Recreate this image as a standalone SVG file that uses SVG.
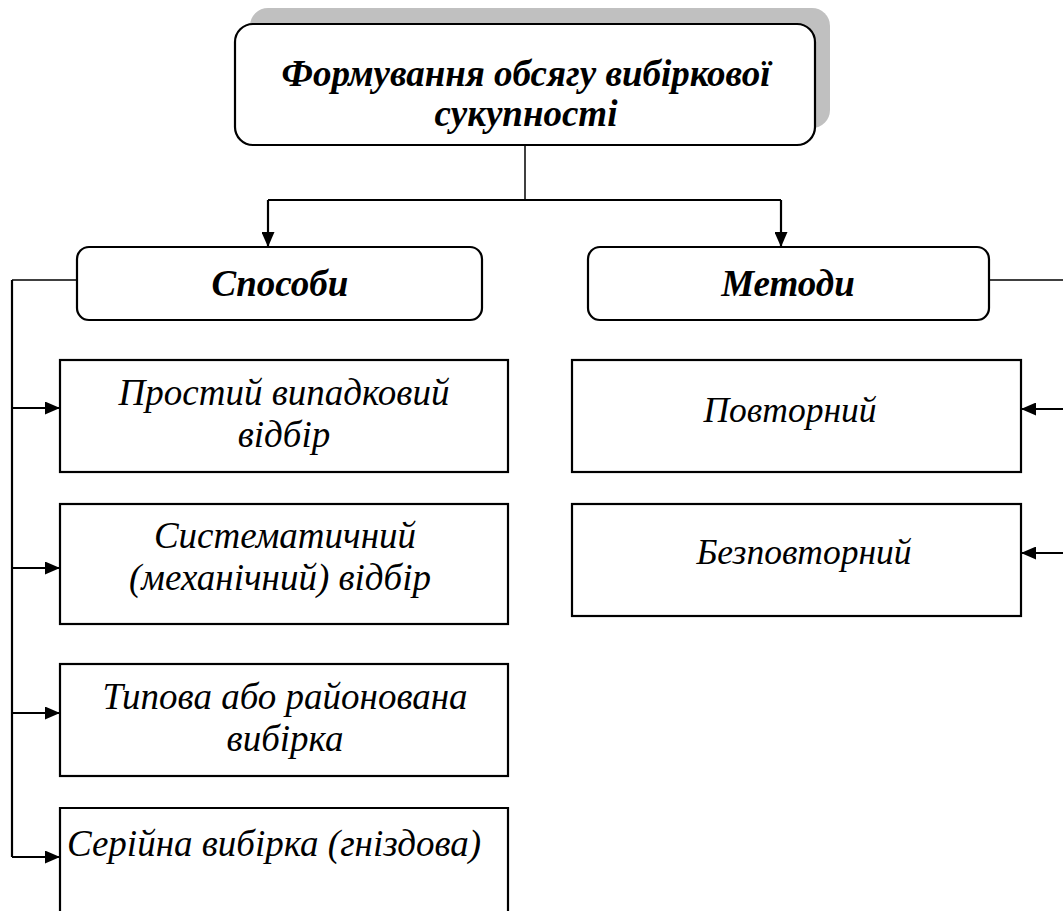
<svg xmlns="http://www.w3.org/2000/svg" width="1063" height="911" viewBox="0 0 1063 911">
<defs>
<marker id="ah" viewBox="0 0 15 13" refX="15" refY="6.5" markerWidth="15" markerHeight="13" markerUnits="userSpaceOnUse" orient="auto">
<path d="M0,0 L15,6.5 L0,13 Z" fill="#000"/>
</marker>
</defs>
<style>
.box{fill:#fff;stroke:#000;stroke-width:2.2}
.ln{fill:none;stroke:#000;stroke-width:2.2}
.thin{fill:none;stroke:#000;stroke-width:1.5}
.t{font-family:"Liberation Serif","Times New Roman",serif;font-style:italic;font-size:37px;fill:#000;text-anchor:middle}
.b{font-weight:bold}
.r{font-size:35.5px}
</style>
<rect width="1063" height="911" fill="#fff"/>
<g id="connectors">
<path class="thin" d="M525,145 V200"/>
<path class="ln" d="M268,200 H781"/>
<path class="ln" d="M268,200 V247" marker-end="url(#ah)"/>
<path class="ln" d="M781,200 V247" marker-end="url(#ah)"/>
<path class="thin" d="M77,280 H12"/>
<path class="ln" d="M12,280 V857"/>
<path class="ln" d="M12,408 H60" marker-end="url(#ah)"/>
<path class="ln" d="M12,568 H60" marker-end="url(#ah)"/>
<path class="ln" d="M12,713 H60" marker-end="url(#ah)"/>
<path class="ln" d="M12,857 H60" marker-end="url(#ah)"/>
<path class="thin" d="M989,280 H1070"/>
<path class="ln" d="M1070,280 V553"/>
<path class="ln" d="M1070,409 H1021" marker-end="url(#ah)"/>
<path class="ln" d="M1070,553 H1021" marker-end="url(#ah)"/>
</g>
<g id="root">
<rect x="250" y="8" width="580" height="120" rx="18" fill="#c0c0c0"/>
<rect class="box" x="235" y="24" width="580" height="121" rx="18"/>
<text class="t b" x="526" y="86">Формування обсягу вибіркової</text>
<text class="t b" x="526" y="126">сукупності</text>
</g>
<g id="sposoby">
<rect class="box" x="77" y="247" width="405" height="73" rx="12"/>
<text class="t b" x="280" y="296">Способи</text>
</g>
<g id="metody">
<rect class="box" x="588" y="247" width="401" height="73" rx="12"/>
<text class="t b" x="788" y="296">Методи</text>
</g>
<g id="s1">
<rect class="box" x="60" y="360" width="448" height="112"/>
<text class="t" x="284" y="405">Простий випадковий</text>
<text class="t" x="284" y="447">відбір</text>
</g>
<g id="s2">
<rect class="box" x="60" y="504" width="448" height="120"/>
<text class="t" x="285" y="548">Систематичний</text>
<text class="t" x="280" y="590">(механічний) відбір</text>
</g>
<g id="s3">
<rect class="box" x="60" y="664" width="448" height="112"/>
<text class="t" x="285" y="709">Типова або районована</text>
<text class="t" x="285" y="751">вибірка</text>
</g>
<g id="s4">
<path class="box" d="M60,920 V808 H508 V920"/>
<text class="t" x="67" y="856" style="text-anchor:start">Серійна вибірка (гніздова)</text>
</g>
<g id="m1">
<rect class="box" x="572" y="360" width="449" height="112"/>
<text class="t r" x="790" y="422">Повторний</text>
</g>
<g id="m2">
<rect class="box" x="572" y="504" width="449" height="112"/>
<text class="t r" x="804" y="564">Безповторний</text>
</g>
</svg>
